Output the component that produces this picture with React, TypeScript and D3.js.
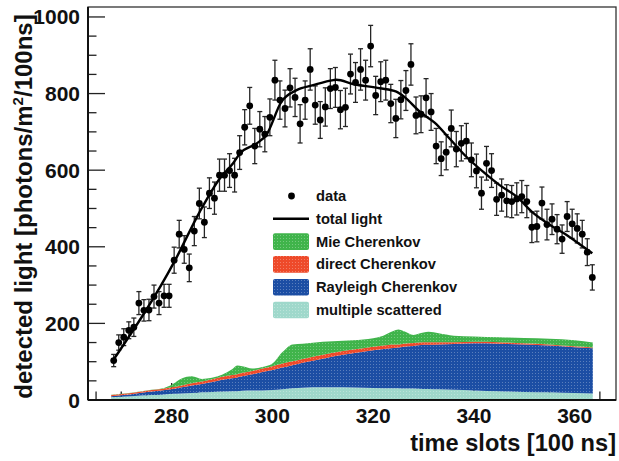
import React from "react";
import * as d3 from "d3";

// ---- measured light per 100 ns time slot ----
const FIRST_SLOT = 268;
const DATA_VALUES = [
  103, 150, 164, 182, 190, 253, 234, 235, 270, 253,
  272, 272, 365, 433, 393, 345, 441, 513, 464, 540,
  527, 587, 587, 599, 587, 646, 712, 768, 663, 707,
  694, 738, 835, 783, 761, 815, 790, 721, 783, 863,
  770, 731, 765, 813, 816, 758, 764, 851, 829, 863,
  835, 924, 795, 831, 835, 774, 735, 784, 808, 876,
  743, 746, 789, 752, 663, 630, 647, 709, 655, 670,
  676, 627, 598, 540, 618, 599, 524, 535, 520, 518,
  525, 531, 518, 451, 453, 514, 458, 472, 446, 420,
  479, 460, 448, 433, 386, 320,
];
const DATA_ERRORS = [
  16, 20, 22, 22, 24, 30, 28, 28, 30, 30,
  30, 30, 34, 36, 36, 36, 38, 40, 40, 40,
  42, 42, 42, 44, 44, 44, 46, 48, 46, 46,
  46, 48, 52, 50, 48, 50, 50, 50, 50, 54,
  50, 48, 50, 52, 52, 50, 50, 52, 52, 54,
  52, 54, 50, 52, 52, 50, 50, 50, 52, 54,
  48, 48, 50, 48, 46, 44, 46, 48, 46, 46,
  46, 44, 44, 42, 44, 44, 42, 42, 42, 42,
  42, 42, 42, 40, 40, 42, 40, 40, 38, 37,
  39, 38, 38, 36, 35, 33,
];
const DATA_SLOTS = DATA_VALUES.map((_, i) => FIRST_SLOT + i);

// ---- total light model curve ----
const FIT_T = [268.2, 280.7, 285.6, 289.6, 292.2, 293.6, 296.9, 298.8, 301.8, 304.8, 308.1, 312.1, 312.7, 316, 321.3, 324.6, 326.3, 329.3, 332.2, 335.2, 338.5, 341.8, 345.1, 348.5, 351.7, 355.1, 358.4, 361.7, 363.5];
const FIT_V = [100, 365, 492, 579, 618, 644, 670, 692, 779, 809, 822, 835, 836, 825, 814, 805, 790, 752, 724, 682, 635, 596, 561, 531, 489, 457, 431, 400, 383];

// ---- light components (stacked, bottom to top) ----
const COMP_T = [268, 272, 276, 278, 280, 282, 284, 286, 288, 290, 292, 293, 294, 296, 298, 300, 302, 304, 306, 310, 314, 318, 322, 324, 325, 326, 328, 330, 331, 333, 336, 340, 345, 350, 355, 360, 363.6];
const MULTIPLE = [7, 10, 13, 14, 16, 17, 18, 20, 21, 22, 23, 23, 24, 25, 25, 26, 28, 31, 32, 33, 33, 32, 31, 31, 31, 30, 30, 29, 29, 28, 27, 25, 23, 21, 20, 18, 17];
const RAYLEIGH = [3, 5, 9, 11, 12, 16, 20, 22, 26, 31, 34, 36, 38, 42, 48, 52, 57, 60, 65, 75, 85, 94, 102, 105, 106, 109, 111, 115, 115, 117, 119, 123, 124, 124, 122, 120, 118];
const DIRECT = [3, 3, 4, 4, 5, 5, 6, 6, 7, 8, 8, 8, 9, 9, 9, 10, 10, 10, 10, 10, 10, 9, 9, 9, 8, 8, 8, 7, 7, 6, 5, 4, 4, 3, 3, 2, 2];
const MIE = [1, 1, 1, 1, 7, 18, 18, 7, 4, 5, 15, 23, 17, 6, 4, 7, 30, 44, 40, 34, 27, 23, 26, 35, 39, 33, 21, 25, 27, 23, 17, 14, 13, 14, 15, 16, 13];

const COMPONENTS = [
  { key: "multiple", label: "multiple scattered", color: "#9fd8cb", values: MULTIPLE },
  { key: "rayleigh", label: "Rayleigh Cherenkov", color: "#1c4ea4", values: RAYLEIGH },
  { key: "direct", label: "direct Cherenkov", color: "#ee4a2a", values: DIRECT },
  { key: "mie", label: "Mie Cherenkov", color: "#40b44b", values: MIE },
];

const X_MAJOR = [280, 300, 320, 340, 360];
const X_MINOR = [265, 270, 275, 285, 290, 295, 305, 310, 315, 325, 330, 335, 345, 350, 355, 365];
const Y_MAJOR = [0, 200, 400, 600, 800, 1000];
const Y_MINOR = [50, 100, 150, 250, 300, 350, 450, 500, 550, 650, 700, 750, 850, 900, 950];

const W = 619;
const H = 461;
const FRAME = { left: 88, right: 616, top: 7, bottom: 400 };
const FONT = "'Liberation Sans', Arial, Helvetica, sans-serif";

export default function App() {
  const x = d3.scaleLinear().domain([263.4, 368.2]).range([FRAME.left, FRAME.right]);
  const y = d3.scaleLinear().domain([0, 1026]).range([FRAME.bottom, FRAME.top]);

  const rows = COMP_T.map((t, i) => {
    const r: Record<string, number> = { t };
    COMPONENTS.forEach((c) => (r[c.key] = c.values[i]));
    return r;
  });
  const stacked = d3.stack<Record<string, number>>().keys(COMPONENTS.map((c) => c.key))(rows);
  const area = d3
    .area<d3.SeriesPoint<Record<string, number>>>()
    .x((d) => x(d.data.t))
    .y0((d) => y(d[0]))
    .y1((d) => y(d[1]))
    .curve(d3.curveMonotoneX);
  const topSeries = stacked[stacked.length - 1];
  const textureArea = d3
    .area<d3.SeriesPoint<Record<string, number>>>()
    .x((d) => x(d.data.t))
    .y0(y(0))
    .y1((d) => y(d[1]))
    .curve(d3.curveMonotoneX);

  const fitLine = d3
    .line<number>()
    .x((_, i) => x(FIT_T[i]))
    .y((v) => y(v))
    .curve(d3.curveMonotoneX)(FIT_V);

  const legendRows = [
    { kind: "dot", label: "data", color: "#000" },
    { kind: "line", label: "total light", color: "#000" },
    ...[...COMPONENTS].reverse().map((c) => ({ kind: "box", label: c.label, color: c.color })),
  ];
  const legX = 273;
  const legY0 = 196;
  const legStep = 22.8;

  return (
    <svg
      width={W}
      height={H}
      viewBox={`0 0 ${W} ${H}`}
      style={{ position: "absolute", left: 0, top: 0, background: "#fff" }}
      fontFamily={FONT}
    >
      <defs>
        <pattern id="dots" width={3} height={3} patternUnits="userSpaceOnUse">
          <rect x={1} y={1} width={1} height={1} fill="#fff" opacity={0.28} />
        </pattern>
        <clipPath id="plot">
          <rect x={FRAME.left} y={FRAME.top} width={FRAME.right - FRAME.left} height={FRAME.bottom - FRAME.top} />
        </clipPath>
      </defs>

      {/* axis ticks (drawn inward) */}
      <g stroke="#222" strokeWidth={1.3}>
        {Y_MAJOR.map((v) => (
          <line key={"ym" + v} x1={FRAME.left} x2={FRAME.left + 17} y1={y(v)} y2={y(v)} />
        ))}
        {Y_MINOR.map((v) => (
          <line key={"yn" + v} x1={FRAME.left} x2={FRAME.left + 8.5} y1={y(v)} y2={y(v)} />
        ))}
        {X_MAJOR.map((t) => (
          <line key={"xm" + t} x1={x(t)} x2={x(t)} y1={FRAME.bottom} y2={FRAME.bottom - 17} />
        ))}
        {X_MINOR.map((t) => (
          <line key={"xn" + t} x1={x(t)} x2={x(t)} y1={FRAME.bottom} y2={FRAME.bottom - 8.5} />
        ))}
      </g>

      {/* stacked light components */}
      <g clipPath="url(#plot)">
        {stacked.map((s, i) => (
          <path key={s.key} d={area(s) || ""} fill={COMPONENTS[i].color} />
        ))}
        <path d={textureArea(topSeries) || ""} fill="url(#dots)" />
      </g>

      {/* data with error bars */}
      <g stroke="#262626" strokeWidth={1.3}>
        {DATA_VALUES.map((v, i) => {
          const cx = x(DATA_SLOTS[i] + 0.5);
          const e = DATA_ERRORS[i];
          return (
            <g key={i}>
              <line x1={cx} x2={cx} y1={y(v - e)} y2={y(v + e)} />
              <line x1={cx - 2.5} x2={cx + 2.5} y1={y(v - e)} y2={y(v - e)} />
              <line x1={cx - 2.5} x2={cx + 2.5} y1={y(v + e)} y2={y(v + e)} />
            </g>
          );
        })}
      </g>
      <g fill="#000">
        {DATA_VALUES.map((v, i) => (
          <circle key={i} cx={x(DATA_SLOTS[i] + 0.5)} cy={y(v)} r={3.4} />
        ))}
      </g>

      {/* total light */}
      <path d={fitLine || ""} fill="none" stroke="#000" strokeWidth={2.4} strokeLinejoin="round" />

      {/* frame */}
      <rect
        x={FRAME.left}
        y={FRAME.top}
        width={FRAME.right - FRAME.left}
        height={FRAME.bottom - FRAME.top}
        fill="none"
        stroke="#333"
        strokeWidth={1.3}
      />
      <line x1={FRAME.left} x2={FRAME.left} y1={FRAME.top} y2={FRAME.bottom} stroke="#111" strokeWidth={2} />
      <line x1={FRAME.left} x2={FRAME.right} y1={FRAME.bottom} y2={FRAME.bottom} stroke="#111" strokeWidth={2} />

      {/* tick labels */}
      <g fontSize={21} fontWeight="bold" fill="#111">
        {Y_MAJOR.map((v) => (
          <text key={"yl" + v} x={80} y={y(v)} textAnchor="end" dominantBaseline="central">
            {v}
          </text>
        ))}
        {X_MAJOR.map((t) => (
          <text key={"xl" + t} x={x(t)} y={423} textAnchor="middle">
            {t}
          </text>
        ))}
      </g>

      {/* axis titles */}
      <text x={616} y={451} textAnchor="end" fontSize={23.6} fontWeight="bold" fill="#111">
        time slots [100 ns]
      </text>
      <text
        transform="translate(32,206.5) rotate(-90)"
        textAnchor="middle"
        fontSize={24}
        fontWeight="bold"
        fill="#111"
      >
        detected light [photons/m
        <tspan fontSize={15} dy={-9}>2</tspan>
        <tspan dy={9}>/100ns]</tspan>
      </text>

      {/* legend */}
      <g fontSize={14.7} fontWeight="bold" fill="#111">
        {legendRows.map((r, i) => {
          const cy = legY0 + i * legStep;
          return (
            <g key={r.label}>
              {r.kind === "dot" && <circle cx={legX + 18.5} cy={cy} r={3.4} fill={r.color} />}
              {r.kind === "line" && (
                <line x1={legX} x2={legX + 36} y1={cy} y2={cy} stroke={r.color} strokeWidth={2.4} />
              )}
              {r.kind === "box" && (
                <g>
                  <rect x={legX} y={cy - 8.3} width={36} height={16.6} rx={2} fill={r.color} />
                  <rect x={legX} y={cy - 8.3} width={36} height={16.6} rx={2} fill="url(#dots)" />
                </g>
              )}
              <text x={legX + 43} y={cy} dominantBaseline="central">
                {r.label}
              </text>
            </g>
          );
        })}
      </g>
    </svg>
  );
}
